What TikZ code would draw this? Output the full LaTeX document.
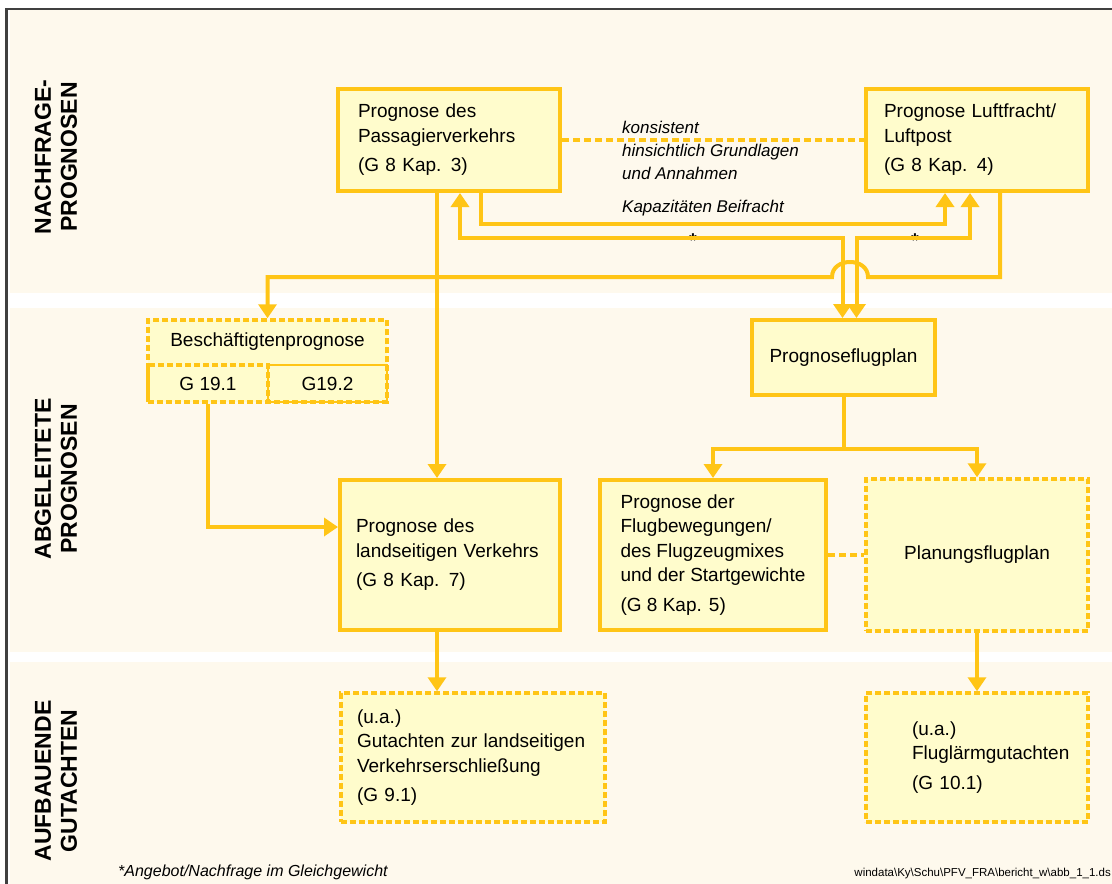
\documentclass[tikz,border=0pt]{standalone}
\usepackage{fontspec}
\setmainfont{Liberation Sans}
\usetikzlibrary{arrows.meta,calc}
\definecolor{ly}{RGB}{255,197,22}
\definecolor{bf}{RGB}{255,252,204}
\definecolor{bandc}{RGB}{254,249,237}
\tikzset{
 tip/.tip={Triangle[width=18pt,length=14pt]},
 conn/.style={draw=ly, line width=4pt},
 arr/.style={conn, -tip},
 darr/.style={conn, tip-tip},
 dconn/.style={conn, dash pattern=on 7pt off 4pt},
 box/.style={draw=ly, fill=bf, line width=4pt, align=left, inner xsep=18pt, font=\fontsize{19}{24.5}\selectfont},
 dbox/.style={box, line width=3.5pt, dash pattern=on 6pt off 3pt},
 lbl/.style={font=\fontsize{19}{24}\selectfont, inner sep=0pt},
 ital/.style={font=\itshape\fontsize{17}{21}\selectfont, anchor=west, inner sep=0pt},
 side/.style={rotate=90, align=center, font=\bfseries\fontsize{23}{26}\selectfont, inner sep=0pt},
 starn/.style={inner sep=0pt, anchor=base, font=\bfseries\fontsize{20}{20}\selectfont},
}
\begin{document}
\begin{tikzpicture}[x=1pt,y=-1pt]
\useasboundingbox (0,0) rectangle (1112,884);
\fill[white] (0,0) rectangle (1112,884);
% bands
\fill[bandc] (10,10) rectangle (1112,293);
\fill[bandc] (10,308) rectangle (1112,652);
\fill[bandc] (10,662) rectangle (1112,884);
\draw[line width=2.5pt, black!75] (6.5,884) -- (6.5,9) -- (1112,9);
% side labels
\node[side] (s1) at (56,157) {NACHFRAGE-\\PROGNOSEN};
\node[side] (s2) at (56,479) {ABGELEITETE\\PROGNOSEN};
\node[side] (s3) at (56,781) {AUFBAUENDE\\GUTACHTEN};
% boxes
\node[box, minimum width=222pt, minimum height=102pt, text width=182pt, inner xsep=20pt] (PP) at (449,140) {Prognose des\\Passagierverkehrs\\[5pt](G 8 Kap. 3)};
\node[box, minimum width=222pt, minimum height=102pt, text width=186pt] (LF) at (977,140) {Prognose Luftfracht/\\Luftpost\\[5pt](G 8 Kap. 4)};
\node[box, minimum width=173pt, minimum height=75pt, align=center] (PF) at (843.5,357.5) {Prognoseflugplan};
\node[dbox, minimum width=239pt, minimum height=82pt] (Besch) at (267.5,361) {};
\node[draw=ly, line width=3.5pt, dash pattern=on 6pt off 3pt, minimum width=120pt, minimum height=37pt, lbl] (G191) at (208,383.5) {G 19.1};
\node[draw=ly, line width=2pt, minimum width=119pt, minimum height=37pt, lbl] (G192) at (327.5,383.5) {G19.2};
\node[lbl] (Bt) at (267.5,342) {Beschäftigtenprognose};
\node[box, minimum width=220pt, minimum height=150pt, text width=188pt, inner xsep=16pt] (LV) at (450,555) {Prognose des\\landseitigen Verkehrs\\[5pt](G 8 Kap. 7)};
\node[box, minimum width=226pt, minimum height=150pt] (FB) at (713,555) {Prognose der\\Flugbewegungen/\\des Flugzeugmixes\\und der Startgewichte\\[5pt](G 8 Kap. 5)};
\node[dbox, minimum width=222pt, minimum height=152pt, align=center] (PL) at (977,555) {Planungsflugplan};
\node[dbox, minimum width=264pt, minimum height=129pt, text width=232pt, inner xsep=16pt] (GV) at (473,757.5) {(u.a.)\\Gutachten zur landseitigen\\Verkehrserschließung\\[5pt](G 9.1)};
\node[dbox, minimum width=222pt, minimum height=129pt, text width=186pt] (FL) at (977,757.5) {\hspace*{28pt}(u.a.)\\\hspace*{28pt}Fluglärmgutachten\\[5pt]\hspace*{28pt}(G 10.1)};
% italic texts
\node[ital] (k1) at (622,127) {konsistent};
\node[ital] (k2) at (622,152) {hinsichtlich Grundlagen};
\node[ital] (k3) at (622,173) {und Annahmen};
\node[ital] (kb) at (622,208) {Kapazitäten Beifracht};
\node[starn] (st1) at (693,247) {*};
\node[starn] (st2) at (915,247) {*};
% coordinates
\coordinate (pA) at ([xshift=-12pt]PP.south);
\coordinate (pB) at ([xshift=11pt]PP.south);
\coordinate (pC) at ([xshift=32pt]PP.south);
\coordinate (lA) at ([xshift=-32pt]LF.south);
\coordinate (lB) at ([xshift=-7pt]LF.south);
\coordinate (lC) at ([xshift=23pt]LF.south);
\coordinate (fA) at ([xshift=-1pt]PF.north);
\coordinate (fB) at ([xshift=13pt]PF.north);
\coordinate (split) at ([yshift=-52pt]PF.south);
\coordinate (gA) at ([xshift=-13pt]LV.south);
% connectors
\draw[dconn] (PP.east) -- (LF.west);
\draw[arr] (pA) -- (pA |- LV.north);
\draw[arr] (pC) -- ++(0,31) -| (lA);
\draw[darr] (fA) -- ++(0,-80) -| (pB);
\draw[darr] (fB) -- ++(0,-80) -| (lB);
\draw[arr] (lC) |- (868,277) .. controls (868,257) and (832,257) .. (832,277) -| (Besch.north);
\draw[arr] (G191.south) |- ([yshift=28pt]LV.west);
\draw[conn] (PF.south) -- (split);
\draw[arr] (split) -| (FB.north);
\draw[arr] (split) -| (PL.north);
\draw[dconn] (FB.east) -- (PL.west);
\draw[arr] (gA) -- (gA |- GV.north);
\draw[arr] (PL.south) -- (FL.north);
% footnotes
\node[inner sep=0pt, anchor=base west, font=\itshape\fontsize{16}{16}\selectfont] (fn) at (118,876) {*Angebot/Nachfrage im Gleichgewicht};
\node[inner sep=0pt, anchor=base east, font=\fontsize{11.5}{12}\selectfont] (fp) at (1111,876) {windata\textbackslash Ky\textbackslash Schu\textbackslash PFV\_FRA\textbackslash bericht\_w\textbackslash abb\_1\_1.ds};
\end{tikzpicture}
\end{document}
